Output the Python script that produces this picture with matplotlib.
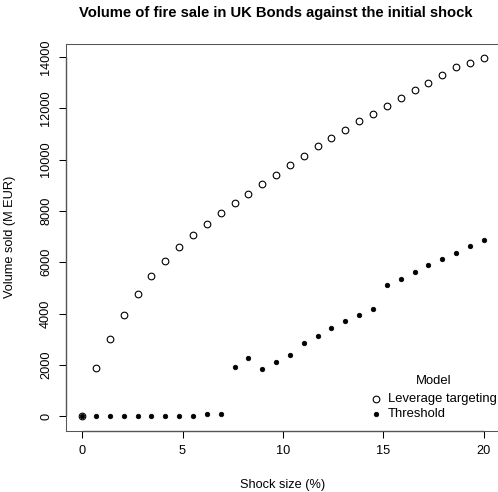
import matplotlib
matplotlib.use("Agg")
import matplotlib.pyplot as plt
from matplotlib.lines import Line2D

shock = [0, 0.69, 1.38, 2.07, 2.76, 3.45, 4.14, 4.83, 5.52, 6.21, 6.90, 7.59,
         8.28, 8.97, 9.66, 10.34, 11.03, 11.72, 12.41, 13.10, 13.79, 14.48,
         15.17, 15.86, 16.55, 17.24, 17.93, 18.62, 19.31, 20.0]
leverage = [0, 1868, 3008, 3930, 4747, 5447, 6043, 6576, 7066, 7494, 7911, 8300,
            8677, 9051, 9416, 9790, 10156, 10518, 10856, 11167, 11490, 11790,
            12086, 12397, 12696, 12996, 13307, 13591, 13774, 13942]
threshold = [0, 0, 0, 0, 0, 0, 0, 0, 0, 78, 78, 1930, 2268, 1852, 2113, 2385,
             2840, 3136, 3436, 3720, 3953, 4163, 5097, 5354, 5615, 5875, 6121,
             6381, 6620, 6862]
xticks = [0, 5, 10, 15, 20]
yticks = [0, 2000, 4000, 6000, 8000, 10000, 12000, 14000]

plt.rcParams['font.family'] = ['Liberation Sans', 'DejaVu Sans']

FS = 9.2
W, H = 498, 492
fig = plt.figure(figsize=(W / 100, H / 100), dpi=100)
L, R, T, B = 66, 500, 44, 430.7
ax = fig.add_axes([L / W, 1 - B / H, (R - L) / W, (B - T) / H])

ax.plot(shock, leverage, linestyle='none', marker='o', markersize=4.8,
        markerfacecolor='none', markeredgecolor='black', markeredgewidth=0.8)
ax.plot(shock, threshold, linestyle='none', marker='o', markersize=3.3,
        markerfacecolor='black', markeredgecolor='black', markeredgewidth=0.5)

xmin, xmax = min(shock), max(shock)
ymin, ymax = min(min(leverage), min(threshold)), max(max(leverage), max(threshold))
dx, dy = 0.04 * (xmax - xmin), 0.04 * (ymax - ymin)
ax.set_xlim(xmin - dx, xmax + dx)
ax.set_ylim(ymin - dy, ymax + dy)

for s in ax.spines.values():
    s.set_color('#555555')
    s.set_linewidth(0.75)

# R-style axis lines from first to last tick
ax.plot([xticks[0], xticks[-1]], [ymin - dy, ymin - dy], color='black', lw=0.9,
        clip_on=False, solid_capstyle='butt')
ax.plot([xmin - dx, xmin - dx], [yticks[0], yticks[-1]], color='black', lw=0.9,
        clip_on=False, solid_capstyle='butt')

ax.set_xticks(xticks)
ax.set_xticklabels([str(v) for v in xticks])
ax.set_yticks(yticks)
ax.set_yticklabels([str(v) for v in yticks], rotation=90, va='center')
ax.tick_params(axis='both', direction='out', length=5, width=0.75, color='black',
               labelsize=FS, pad=5)

fig.text(10 / W, 1 - 237 / H, 'Volume sold (M EUR)', rotation=90,
         ha='center', va='center', fontsize=FS)
fig.text(283 / W, 1 - 485 / H, 'Shock size (%)', ha='center', va='center',
         fontsize=FS)
fig.text(276 / W, 1 - 13 / H, 'Volume of fire sale in UK Bonds against the initial shock',
         ha='center', va='center', fontsize=10.6, fontweight='bold')

# legend (no box)
LFS = 9.4
fig.text(434 / W, 1 - 381 / H, 'Model', ha='center', va='center', fontsize=LFS)
fig.text(388 / W, 1 - 399 / H, 'Leverage targeting', ha='left', va='center', fontsize=LFS)
fig.text(388 / W, 1 - 414 / H, 'Threshold', ha='left', va='center', fontsize=LFS)
fig.add_artist(Line2D([375.7 / W], [1 - 399 / H], marker='o', markersize=4.8,
                      markerfacecolor='none', markeredgecolor='black',
                      markeredgewidth=0.8, linestyle='none'))
fig.add_artist(Line2D([375.7 / W], [1 - 414 / H], marker='o', markersize=3.3,
                      markerfacecolor='black', markeredgecolor='black',
                      markeredgewidth=0.5, linestyle='none'))

fig.savefig('out.png', dpi=100)
